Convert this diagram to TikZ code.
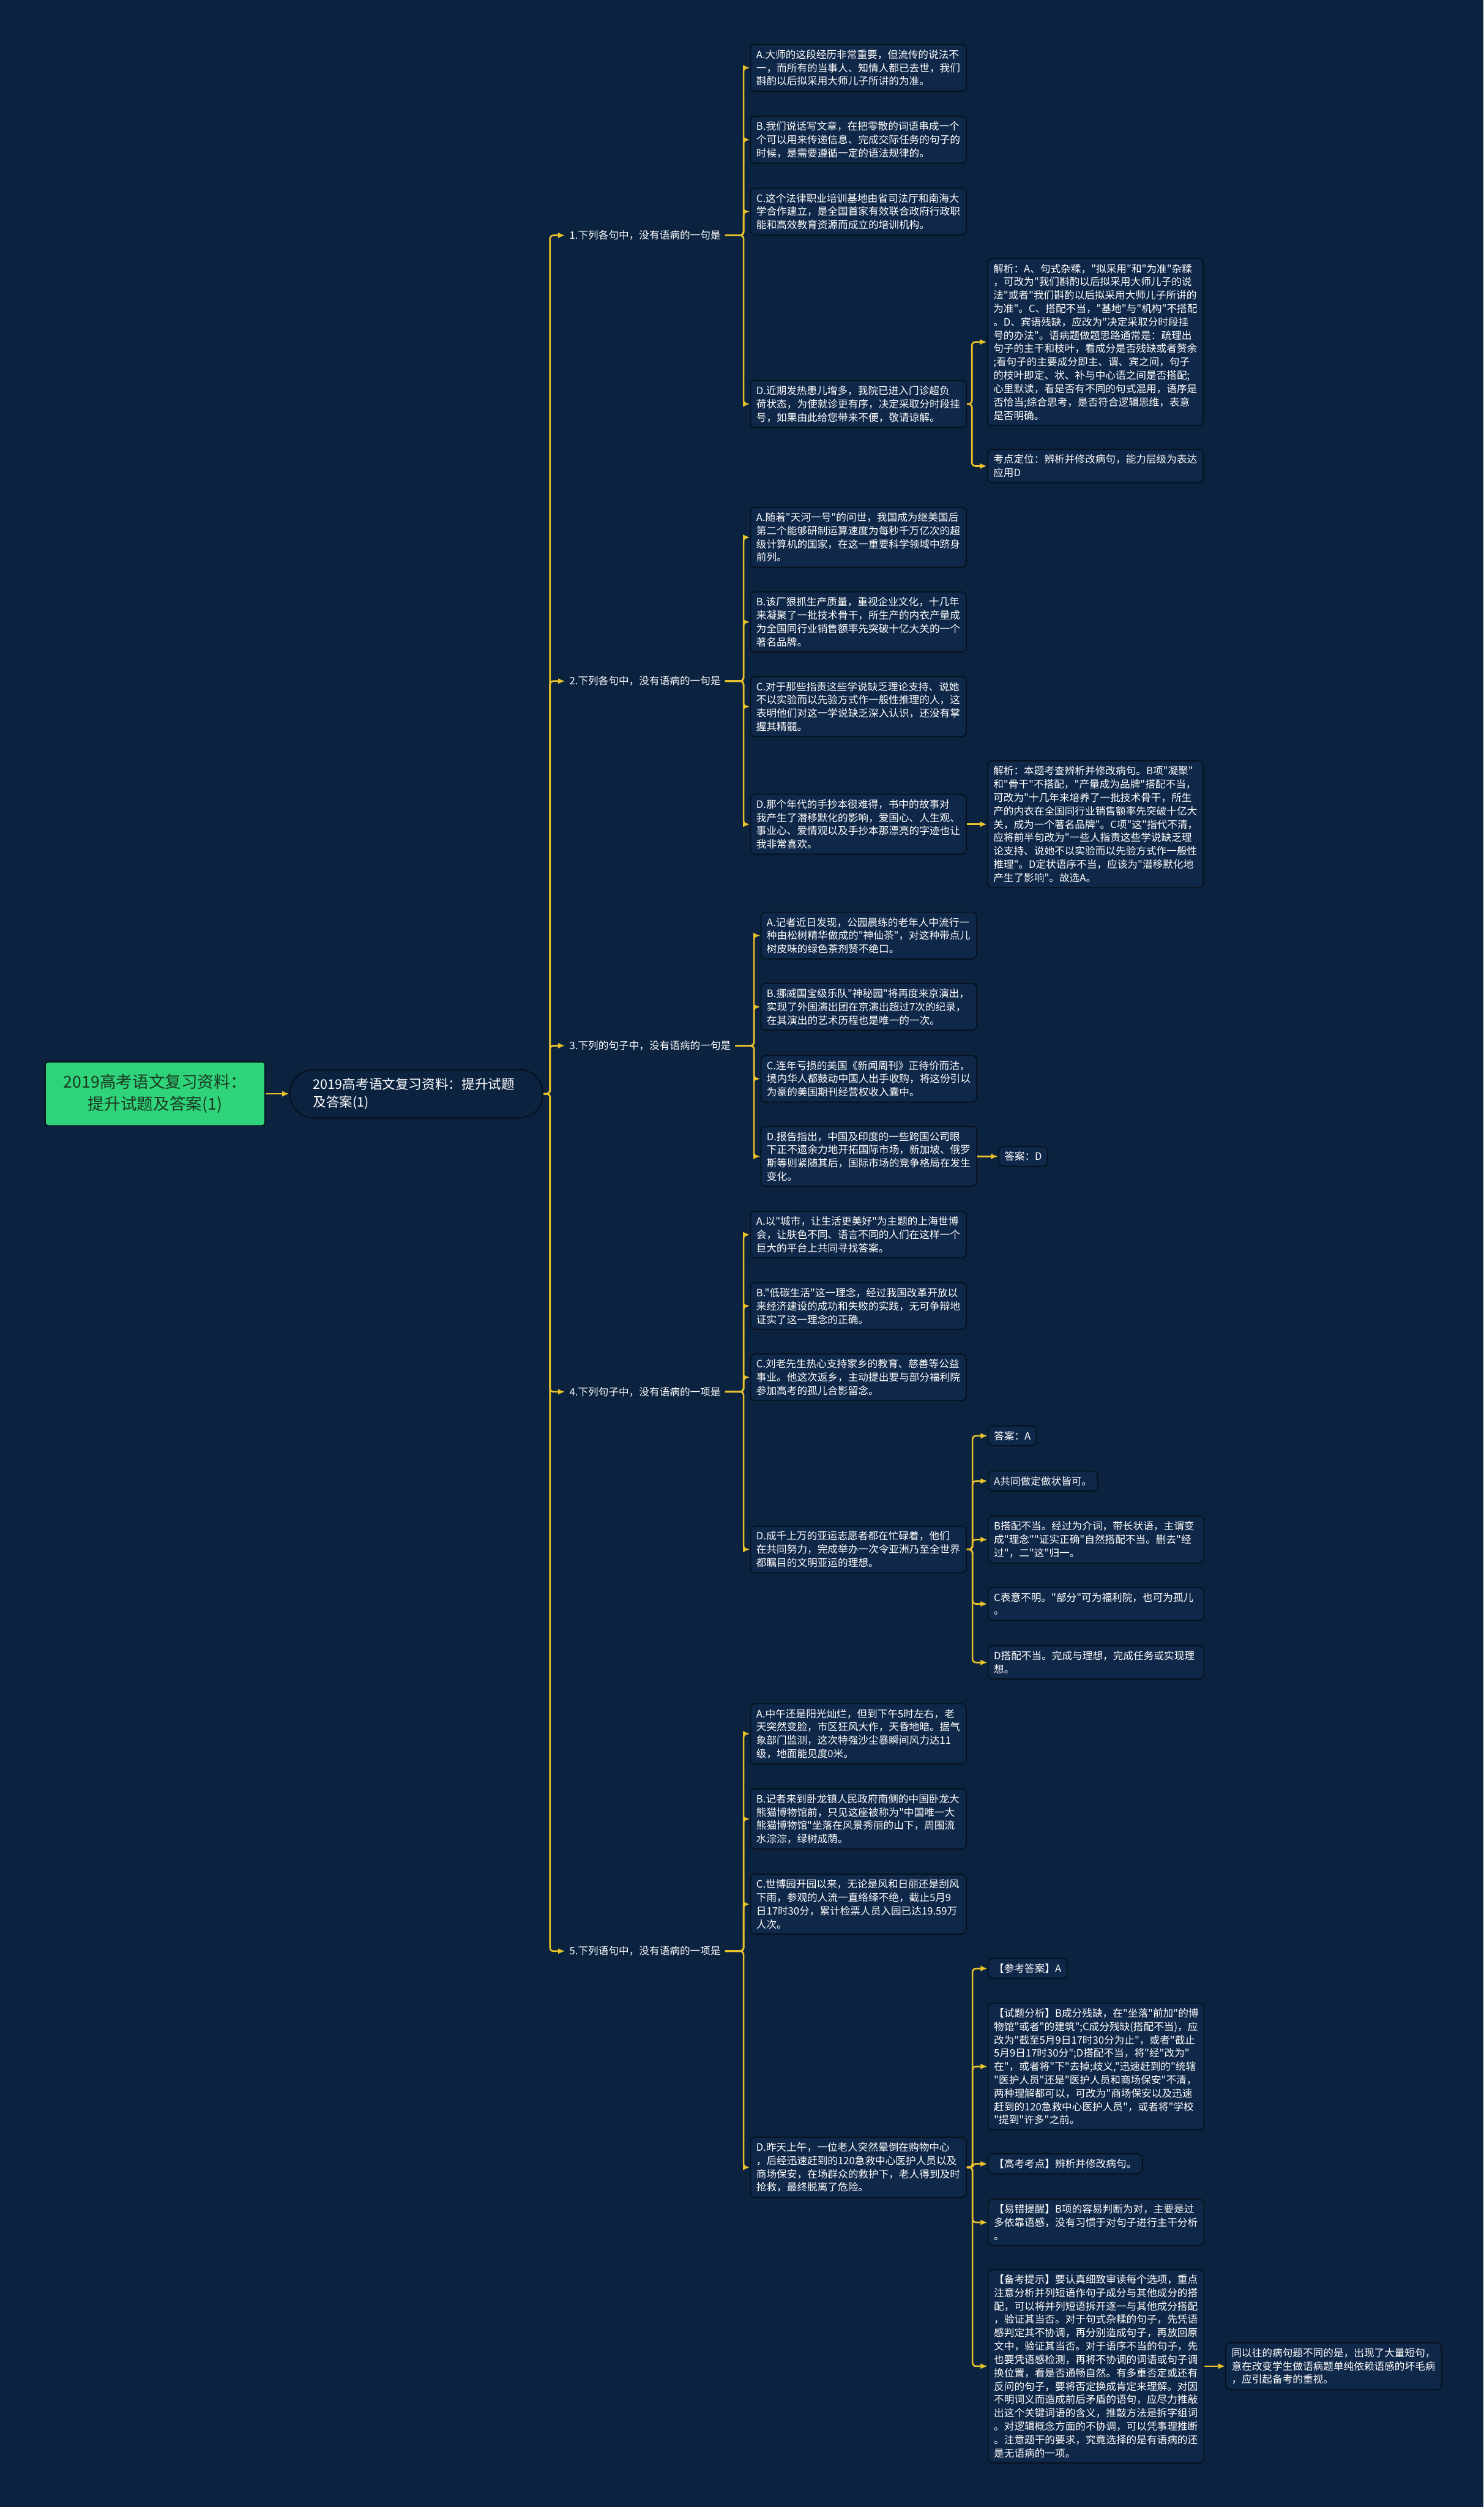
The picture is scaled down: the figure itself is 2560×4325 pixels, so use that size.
\documentclass[tikz,border=0pt]{standalone}
\usepackage{fontspec}
\newfontfamily\cjk{Noto Sans CJK SC}
\usetikzlibrary{arrows.meta}
\definecolor{bg}{HTML}{0C2340}
\definecolor{boxfill}{HTML}{0F2748}
\definecolor{boxline}{HTML}{06121F}
\definecolor{conn}{HTML}{E8C12B}
\definecolor{rootgreen}{HTML}{2FD37A}
\definecolor{roottext}{HTML}{1B3A22}
\begin{document}
\begin{tikzpicture}[x=0.01cm,y=-0.01cm,
  boxbase/.style={draw=boxline, line width=0.02cm, fill=boxfill, rounded corners=0.08cm, text=white,
    font=\cjk\fontsize{5}{6.55}\selectfont, align=left, inner xsep=0.1cm, inner ysep=0.09cm, anchor=west},
  leaf/.style={boxbase, text width=3.52cm},
  tag/.style={boxbase},
  qlabel/.style={text=white, font=\cjk\fontsize{5}{6.55}\selectfont, anchor=west, inner xsep=0.07cm, inner ysep=0.05cm},
  link/.style={draw=conn, line width=0.028cm, rounded corners=0.06cm, -{Latex[length=0.12cm,width=0.1cm]}}]
\useasboundingbox[fill=bg] (0,0) rectangle (2560,4325);

% root and main
\node[draw=boxline, line width=0.02cm, fill=rootgreen, rounded corners=0.05cm, text=roottext,
  font=\cjk\fontsize{8}{10.8}\selectfont, align=center, minimum width=3.79cm, minimum height=1.1cm, anchor=west]
  (root) at (77,1887) {2019高考语文复习资料：\\提升试题及答案(1)};
\node[draw=boxline, line width=0.025cm, fill=bg, rounded corners=0.4cm, text=white,
  font=\cjk\fontsize{6.5}{8.5}\selectfont, align=left, text width=3.56cm, inner xsep=0.4cm, minimum height=0.83cm, anchor=west]
  (main) at (499,1887) {2019高考语文复习资料：提升试题\\及答案(1)};
\draw[link] (root.east) -- (main.west);

% level 1 labels
\node[qlabel] (q1) at (975,406) {1.下列各句中，没有语病的一句是};
\node[qlabel] (q2) at (975,1175) {2.下列各句中，没有语病的一句是};
\node[qlabel] (q3) at (975,1804) {3.下列的句子中，没有语病的一句是};
\node[qlabel] (q4) at (975,2401) {4.下列句子中，没有语病的一项是};
\node[qlabel] (q5) at (975,3366) {5.下列语句中，没有语病的一项是};
\foreach \q in {q1,q2,q3,q4,q5}{
  \draw[link] (main.east) -| ([xshift=-0.26cm]\q.west) -- (\q.west);
}

% Q1
\node[leaf] (q1a) at (1294,117) {A.大师的这段经历非常重要，但流传的说法不\\一，而所有的当事人、知情人都已去世，我们\\斟酌以后拟采用大师儿子所讲的为准。};
\node[leaf] (q1b) at (1294,241) {B.我们说话写文章，在把零散的词语串成一个\\个可以用来传递信息、完成交际任务的句子的\\时候，是需要遵循一定的语法规律的。};
\node[leaf] (q1c) at (1294,365) {C.这个法律职业培训基地由省司法厅和南海大\\学合作建立，是全国首家有效联合政府行政职\\能和高效教育资源而成立的培训机构。};
\node[leaf] (q1d) at (1294,697) {D.近期发热患儿增多，我院已进入门诊超负\\荷状态，为使就诊更有序，决定采取分时段挂\\号，如果由此给您带来不便，敬请谅解。};
\node[leaf] (q1d1) at (1703,590) {解析：A、句式杂糅，"拟采用"和"为准"杂糅\\，可改为"我们斟酌以后拟采用大师儿子的说\\法"或者"我们斟酌以后拟采用大师儿子所讲的\\为准"。C、搭配不当，"基地"与"机构"不搭配\\。D、宾语残缺，应改为"决定采取分时段挂\\号的办法"。语病题做题思路通常是：疏理出\\句子的主干和枝叶，看成分是否残缺或者赘余\\;看句子的主要成分即主、谓、宾之间，句子\\的枝叶即定、状、补与中心语之间是否搭配;\\心里默读，看是否有不同的句式混用，语序是\\否恰当;综合思考，是否符合逻辑思维，表意\\是否明确。};
\node[leaf] (q1d2) at (1703,804) {考点定位：辨析并修改病句，能力层级为表达\\应用D};
\foreach \c in {q1a,q1b,q1c,q1d}{\draw[link] (q1.east) -| ([xshift=-0.11cm]\c.west) -- (\c.west);}
\foreach \c in {q1d1,q1d2}{\draw[link] (q1d.east) -| ([xshift=-0.26cm]\c.west) -- (\c.west);}

% Q2
\node[leaf] (q2a) at (1294,927) {A.随着"天河一号"的问世，我国成为继美国后\\第二个能够研制运算速度为每秒千万亿次的超\\级计算机的国家，在这一重要科学领域中跻身\\前列。};
\node[leaf] (q2b) at (1294,1073) {B.该厂狠抓生产质量，重视企业文化，十几年\\来凝聚了一批技术骨干，所生产的内衣产量成\\为全国同行业销售额率先突破十亿大关的一个\\著名品牌。};
\node[leaf] (q2c) at (1294,1219) {C.对于那些指责这些学说缺乏理论支持、说她\\不以实验而以先验方式作一般性推理的人，这\\表明他们对这一学说缺乏深入认识，还没有掌\\握其精髓。};
\node[leaf] (q2d) at (1294,1422) {D.那个年代的手抄本很难得，书中的故事对\\我产生了潜移默化的影响，爱国心、人生观、\\事业心、爱情观以及手抄本那漂亮的字迹也让\\我非常喜欢。};
\node[leaf] (q2d1) at (1703,1422) {解析：本题考查辨析并修改病句。B项"凝聚"\\和"骨干"不搭配，"产量成为品牌"搭配不当，\\可改为"十几年来培养了一批技术骨干，所生\\产的内衣在全国同行业销售额率先突破十亿大\\关，成为一个著名品牌"。C项"这"指代不清，\\应将前半句改为"一些人指责这些学说缺乏理\\论支持、说她不以实验而以先验方式作一般性\\推理"。D定状语序不当，应该为"潜移默化地\\产生了影响"。故选A。};
\foreach \c in {q2a,q2b,q2c,q2d}{\draw[link] (q2.east) -| ([xshift=-0.11cm]\c.west) -- (\c.west);}
\draw[link] (q2d.east) -- (q2d1.west);

% Q3
\node[leaf] (q3a) at (1312,1614) {A.记者近日发现，公园晨练的老年人中流行一\\种由松树精华做成的"神仙茶"，对这种带点儿\\树皮味的绿色茶剂赞不绝口。};
\node[leaf] (q3b) at (1312,1737) {B.挪威国宝级乐队"神秘园"将再度来京演出，\\实现了外国演出团在京演出超过7次的纪录，\\在其演出的艺术历程也是唯一的一次。};
\node[leaf] (q3c) at (1312,1861) {C.连年亏损的美国《新闻周刊》正待价而沽，\\境内华人都鼓动中国人出手收购，将这份引以\\为豪的美国期刊经营权收入囊中。};
\node[leaf] (q3d) at (1312,1995) {D.报告指出，中国及印度的一些跨国公司眼\\下正不遗余力地开拓国际市场，新加坡、俄罗\\斯等则紧随其后，国际市场的竞争格局在发生\\变化。};
\node[tag] (q3d1) at (1722,1995) {答案：D};
\foreach \c in {q3a,q3b,q3c,q3d}{\draw[link] (q3.east) -| ([xshift=-0.11cm]\c.west) -- (\c.west);}
\draw[link] (q3d.east) -- (q3d1.west);

% Q4
\node[leaf] (q4a) at (1294,2130) {A.以"城市，让生活更美好"为主题的上海世博\\会，让肤色不同、语言不同的人们在这样一个\\巨大的平台上共同寻找答案。};
\node[leaf] (q4b) at (1294,2253) {B."低碳生活"这一理念，经过我国改革开放以\\来经济建设的成功和失败的实践，无可争辩地\\证实了这一理念的正确。};
\node[leaf] (q4c) at (1294,2376) {C.刘老先生热心支持家乡的教育、慈善等公益\\事业。他这次返乡，主动提出要与部分福利院\\参加高考的孤儿合影留念。};
\node[leaf] (q4d) at (1294,2673) {D.成千上万的亚运志愿者都在忙碌着，他们\\在共同努力，完成举办一次令亚洲乃至全世界\\都瞩目的文明亚运的理想。};
\node[tag] (q4d1) at (1704,2477) {答案：A};
\node[tag] (q4d2) at (1704,2555) {A共同做定做状皆可。};
\node[leaf] (q4d3) at (1704,2656) {B搭配不当。经过为介词，带长状语，主谓变\\成"理念""证实正确"自然搭配不当。删去"经\\过"，二"这"归一。};
\node[leaf] (q4d4) at (1704,2767) {C表意不明。"部分"可为福利院，也可为孤儿\\。};
\node[leaf] (q4d5) at (1704,2868) {D搭配不当。完成与理想，完成任务或实现理\\想。};
\foreach \c in {q4a,q4b,q4c,q4d}{\draw[link] (q4.east) -| ([xshift=-0.11cm]\c.west) -- (\c.west);}
\foreach \c in {q4d1,q4d2,q4d3,q4d4,q4d5}{\draw[link] (q4d.east) -| ([xshift=-0.26cm]\c.west) -- (\c.west);}

% Q5
\node[leaf] (q5a) at (1294,2991) {A.中午还是阳光灿烂，但到下午5时左右，老\\天突然变脸，市区狂风大作，天昏地暗。据气\\象部门监测，这次特强沙尘暴瞬间风力达11\\级，地面能见度0米。};
\node[leaf] (q5b) at (1294,3138) {B.记者来到卧龙镇人民政府南侧的中国卧龙大\\熊猫博物馆前，只见这座被称为"中国唯一大\\熊猫博物馆"坐落在风景秀丽的山下，周围流\\水淙淙，绿树成荫。};
\node[leaf] (q5c) at (1294,3285) {C.世博园开园以来，无论是风和日丽还是刮风\\下雨，参观的人流一直络绎不绝，截止5月9\\日17时30分，累计检票人员入园已达19.59万\\人次。};
\node[leaf] (q5d) at (1294,3739) {D.昨天上午，一位老人突然晕倒在购物中心\\，后经迅速赶到的120急救中心医护人员以及\\商场保安，在场群众的救护下，老人得到及时\\抢救，最终脱离了危险。};
\node[tag] (q5d1) at (1704,3396) {【参考答案】A};
\node[leaf] (q5d2) at (1704,3565) {【试题分析】B成分残缺，在"坐落"前加"的博\\物馆"或者"的建筑";C成分残缺(搭配不当)，应\\改为"截至5月9日17时30分为止"，或者"截止\\5月9日17时30分";D搭配不当，将"经"改为"\\在"，或者将"下"去掉;歧义,"迅速赶到的"统辖\\"医护人员"还是"医护人员和商场保安"不清，\\两种理解都可以，可改为"商场保安以及迅速\\赶到的120急救中心医护人员"，或者将"学校\\"提到"许多"之前。};
\node[tag] (q5d3) at (1704,3733) {【高考考点】辨析并修改病句。};
\node[leaf] (q5d4) at (1704,3834) {【易错提醒】B项的容易判断为对，主要是过\\多依靠语感，没有习惯于对句子进行主干分析\\。};
\node[leaf] (q5d5) at (1704,4082) {【备考提示】要认真细致审读每个选项，重点\\注意分析并列短语作句子成分与其他成分的搭\\配，可以将并列短语拆开逐一与其他成分搭配\\，验证其当否。对于句式杂糅的句子，先凭语\\感判定其不协调，再分别造成句子，再放回原\\文中，验证其当否。对于语序不当的句子，先\\也要凭语感检测，再将不协调的词语或句子调\\换位置，看是否通畅自然。有多重否定或还有\\反问的句子，要将否定换成肯定来理解。对因\\不明词义而造成前后矛盾的语句，应尽力推敲\\出这个关键词语的含义，推敲方法是拆字组词\\。对逻辑概念方面的不协调，可以凭事理推断\\。注意题干的要求，究竟选择的是有语病的还\\是无语病的一项。};
\node[leaf] (q5e) at (2114,4082) {同以往的病句题不同的是，出现了大量短句，\\意在改变学生做语病题单纯依赖语感的坏毛病\\，应引起备考的重视。};
\foreach \c in {q5a,q5b,q5c,q5d}{\draw[link] (q5.east) -| ([xshift=-0.11cm]\c.west) -- (\c.west);}
\foreach \c in {q5d1,q5d2,q5d3,q5d4,q5d5}{\draw[link] (q5d.east) -| ([xshift=-0.26cm]\c.west) -- (\c.west);}
\draw[link] (q5d5.east) -- (q5e.west);
\end{tikzpicture}
\end{document}
